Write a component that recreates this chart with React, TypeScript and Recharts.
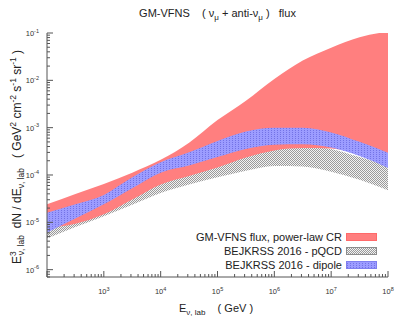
import React from "react";
import { ComposedChart, Area, XAxis, YAxis } from "recharts";

// log10(E / GeV) sample points
const logE = [2, 2.5, 3, 3.5, 4, 4.5, 5, 5.5, 6, 6.5, 7, 7.5, 8];

// log10 of E^3 dN/dE, band edges
const redHigh = [-4.62, -4.4, -4.19, -3.95, -3.68, -3.32, -2.84, -2.43, -1.97, -1.58, -1.31, -1.09, -0.97];
const redLow = [-5.12, -5.03, -4.83, -4.52, -4.2, -4.02, -3.84, -3.63, -3.48, -3.43, -3.44, -3.55, -3.65];
const blueHigh = [-4.8, -4.62, -4.42, -4.05, -3.73, -3.52, -3.28, -3.08, -3.0, -3.0, -3.1, -3.3, -3.53];
const blueLow = [-5.22, -4.92, -4.62, -4.28, -3.95, -3.8, -3.62, -3.45, -3.36, -3.35, -3.42, -3.6, -3.85];
const grayHigh = [-5.05, -4.9, -4.7, -4.4, -4.08, -3.9, -3.7, -3.52, -3.4, -3.38, -3.45, -3.62, -3.8];
const grayLow = [-5.34, -5.1, -4.87, -4.63, -4.38, -4.2, -4.05, -3.91, -3.81, -3.82, -3.93, -4.1, -4.32];

const xDecades = [2, 3, 4, 5, 6, 7, 8];
const yDecades = [-7, -6, -5, -4, -3, -2, -1];
const xLabelDecades = [3, 4, 5, 6, 7, 8];

const X_DOMAIN: [number, number] = [2, 8];
const Y_DOMAIN: [number, number] = [-6.155, -1];

const AXIS_COLOR = "#555";
const FONT = '"Liberation Sans", Arial, Helvetica, sans-serif';

const data = logE.map((x, i) => ({
  x,
  red: [redLow[i], redHigh[i]],
  blue: [blueLow[i], blueHigh[i]],
  gray: [grayLow[i], grayHigh[i]],
}));

// major + minor (2..9) log ticks inside a domain
function logTicks(decades: number[], domain: [number, number]) {
  const out: number[] = [];
  decades.forEach((d) => {
    for (let k = 1; k <= 9; k++) {
      const v = d + Math.log10(k);
      if (v >= domain[0] - 1e-9 && v <= domain[1] + 1e-9) out.push(v);
    }
  });
  return out;
}
const xTicks = logTicks(xDecades, X_DOMAIN);
const yTicks = logTicks(yDecades, Y_DOMAIN);

const isMajor = (v: number) => Math.abs(v - Math.round(v)) < 1e-6;

function Pow({ x, y, exp, anchor }: { x: number; y: number; exp: number; anchor: "middle" | "end" }) {
  return (
    <text x={x} y={y} textAnchor={anchor} fontSize={7.5} fill="#333" fontFamily={FONT}>
      10
      <tspan dy={-3.5} fontSize={5.5}>
        {exp}
      </tspan>
    </text>
  );
}

function BottomTick(props: any) {
  const { x, y, payload } = props;
  const v = payload.value;
  const major = isMajor(v);
  const e = Math.round(v);
  return (
    <g>
      <line x1={x} x2={x} y1={y} y2={y - (major ? 6 : 3)} stroke={AXIS_COLOR} />
      {major && xLabelDecades.includes(e) && <Pow x={x} y={y + 17} exp={e} anchor="middle" />}
    </g>
  );
}

function TopTick(props: any) {
  const { x, y, payload } = props;
  const major = isMajor(payload.value);
  return <line x1={x} x2={x} y1={y} y2={y + (major ? 6 : 3)} stroke={AXIS_COLOR} />;
}

function LeftTick(props: any) {
  const { x, y, payload } = props;
  const v = payload.value;
  const major = isMajor(v);
  return (
    <g>
      <line x1={x} x2={x + (major ? 6 : 3)} y1={y} y2={y} stroke={AXIS_COLOR} />
      {major && <Pow x={x - 8} y={y + 3} exp={Math.round(v)} anchor="end" />}
    </g>
  );
}

function RightTick(props: any) {
  const { x, y, payload } = props;
  const major = isMajor(payload.value);
  return <line x1={x} x2={x - (major ? 6 : 3)} y1={y} y2={y} stroke={AXIS_COLOR} />;
}

function PatternDefs() {
  return (
    <defs>
      <pattern id="grayChecker" width={2} height={2} patternUnits="userSpaceOnUse">
        <rect width={2} height={2} fill="#f2f2f2" />
        <rect x={0} y={0} width={1} height={1} fill="#9a9a9a" />
        <rect x={1} y={1} width={1} height={1} fill="#9a9a9a" />
      </pattern>
      <pattern id="blueDots" width={3} height={2} patternUnits="userSpaceOnUse">
        <rect width={3} height={2} fill="#9c9cff" />
        <rect x={1} y={0} width={1} height={1} fill="#7373e6" />
      </pattern>
    </defs>
  );
}

const legendItems = [
  { label: "GM-VFNS flux, power-law CR", kind: "red" },
  { label: "BEJKRSS 2016 - pQCD", kind: "gray" },
  { label: "BEJKRSS 2016 - dipole", kind: "blue" },
];

function Swatch({ kind }: { kind: string }) {
  const fill = kind === "red" ? "#ff7f7f" : kind === "gray" ? "url(#grayChecker)" : "url(#blueDots)";
  const stroke = kind === "red" ? "#ff6a6a" : kind === "gray" ? "#8c8c8c" : "#7f7ff0";
  return (
    <svg width={31} height={8} style={{ display: "block" }}>
      <rect x={0.5} y={0.5} width={30} height={7} fill={fill} stroke={stroke} />
    </svg>
  );
}

export default function App() {
  return (
    <div
      style={{
        position: "absolute",
        left: 0,
        top: 0,
        width: 407,
        height: 326,
        background: "#fff",
        fontFamily: FONT,
        color: "#222",
      }}
    >
      <ComposedChart width={407} height={326} data={data} margin={{ top: 33, right: 19, bottom: 0, left: 0 }}>
        <PatternDefs />
        <XAxis
          xAxisId="b"
          dataKey="x"
          type="number"
          domain={X_DOMAIN}
          ticks={xTicks}
          interval={0}
          height={49}
          tickSize={0}
          tickMargin={0}
          tickLine={false}
          tick={<BottomTick />}
          axisLine={{ stroke: AXIS_COLOR }}
          allowDataOverflow
        />
        <XAxis
          xAxisId="t"
          orientation="top"
          dataKey="x"
          type="number"
          domain={X_DOMAIN}
          ticks={xTicks}
          interval={0}
          height={0}
          tickSize={0}
          tickMargin={0}
          tickLine={false}
          tick={<TopTick />}
          axisLine={{ stroke: AXIS_COLOR }}
          allowDataOverflow
        />
        <YAxis
          yAxisId="l"
          type="number"
          domain={Y_DOMAIN}
          ticks={yTicks}
          interval={0}
          width={47}
          tickSize={0}
          tickMargin={0}
          tickLine={false}
          tick={<LeftTick />}
          axisLine={{ stroke: AXIS_COLOR }}
          allowDataOverflow
        />
        <YAxis
          yAxisId="r"
          orientation="right"
          type="number"
          domain={Y_DOMAIN}
          ticks={yTicks}
          interval={0}
          width={0}
          tickSize={0}
          tickMargin={0}
          tickLine={false}
          tick={<RightTick />}
          axisLine={{ stroke: AXIS_COLOR }}
          allowDataOverflow
        />
        <Area
          xAxisId="b"
          yAxisId="l"
          type="monotone"
          dataKey="gray"
          fill="url(#grayChecker)"
          fillOpacity={1}
          stroke="none"
          isAnimationActive={false}
        />
        <Area
          xAxisId="b"
          yAxisId="l"
          type="monotone"
          dataKey="red"
          fill="#ff7f7f"
          fillOpacity={1}
          stroke="none"
          isAnimationActive={false}
        />
        <Area
          xAxisId="b"
          yAxisId="l"
          type="monotone"
          dataKey="blue"
          fill="url(#blueDots)"
          fillOpacity={1}
          stroke="none"
          isAnimationActive={false}
        />
      </ComposedChart>

      <div
        style={{
          position: "absolute",
          top: 7,
          left: 47,
          width: 341,
          textAlign: "center",
          fontSize: 11,
          whiteSpace: "pre",
        }}
      >
        {"GM-VFNS    ( ν"}
        <sub style={{ fontSize: 8 }}>μ</sub>
        {" + anti-ν"}
        <sub style={{ fontSize: 8 }}>μ</sub>
        {" )   flux"}
      </div>

      <div
        style={{
          position: "absolute",
          left: 17,
          top: 157,
          transform: "translate(-50%, -50%) rotate(-90deg)",
          fontSize: 12,
          whiteSpace: "pre",
        }}
      >
        {"E"}
        <sup style={{ fontSize: 8.5 }}>3</sup>
        <sub style={{ fontSize: 8.5, marginLeft: -4 }}>ν, lab</sub>
        {"  dN / dE"}
        <sub style={{ fontSize: 8.5 }}>ν, lab</sub>
        {"   ( GeV"}
        <sup style={{ fontSize: 8.5 }}>2</sup>
        {" cm"}
        <sup style={{ fontSize: 8.5 }}>-2</sup>
        {" s"}
        <sup style={{ fontSize: 8.5 }}>-1</sup>
        {" sr"}
        <sup style={{ fontSize: 8.5 }}>-1</sup>
        {" )"}
      </div>

      <div
        style={{
          position: "absolute",
          top: 302,
          left: 216,
          transform: "translateX(-50%)",
          fontSize: 11,
          whiteSpace: "pre",
        }}
      >
        {"E"}
        <sub style={{ fontSize: 8 }}>ν, lab</sub>
        {"    ( GeV )"}
      </div>

      <div style={{ position: "absolute", right: 30, top: 230 }}>
        {legendItems.map((it) => (
          <div
            key={it.label}
            style={{ display: "flex", alignItems: "center", justifyContent: "flex-end", height: 14, fontSize: 11 }}
          >
            <span style={{ marginRight: 4 }}>{it.label}</span>
            <Swatch kind={it.kind} />
          </div>
        ))}
      </div>
    </div>
  );
}
